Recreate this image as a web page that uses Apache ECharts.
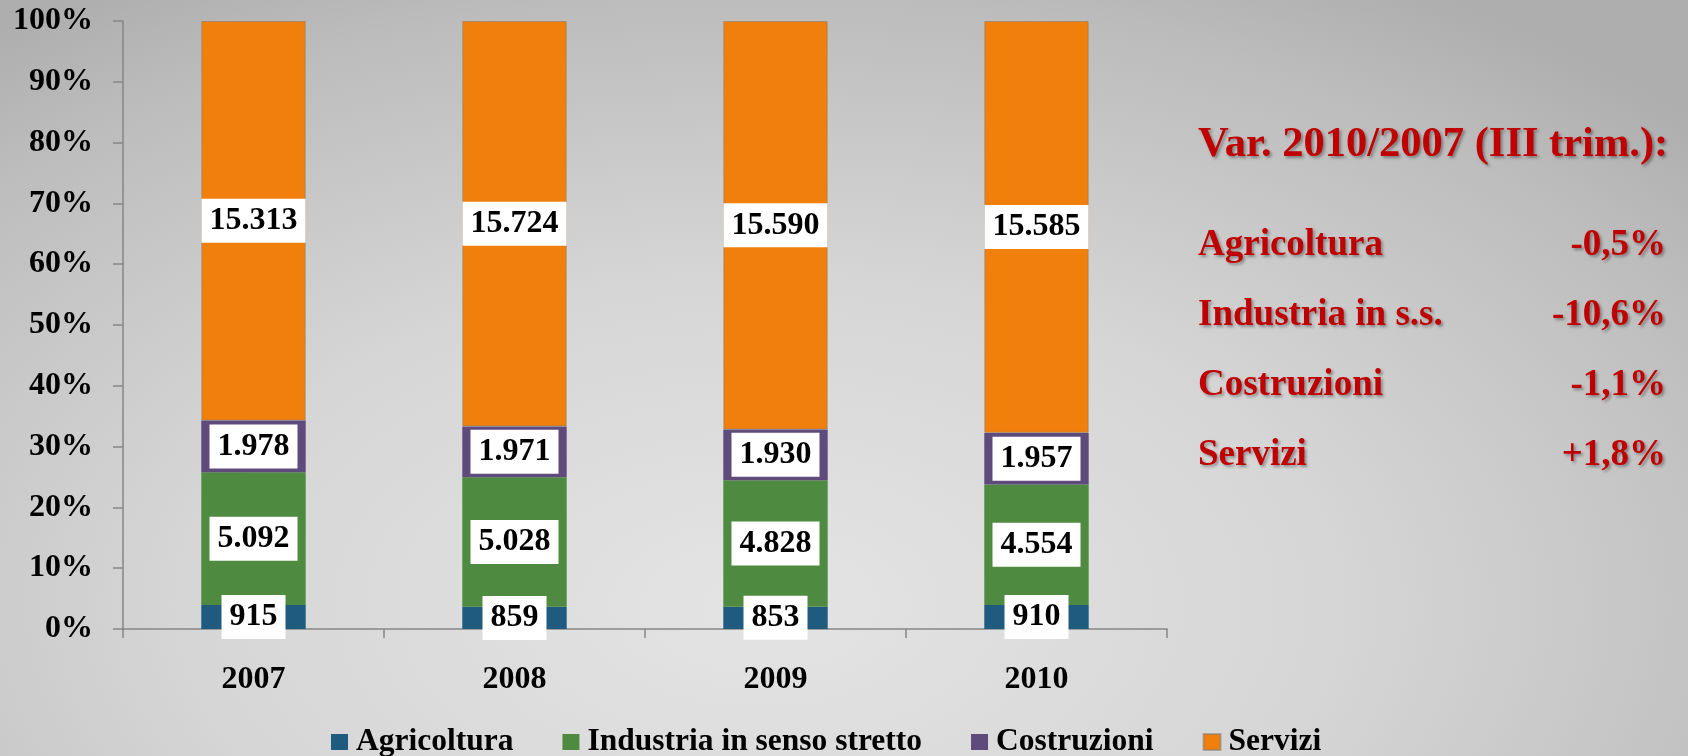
<!DOCTYPE html>
<html>
<head>
<meta charset="utf-8">
<script src="https://cdn.jsdelivr.net/npm/echarts@6/dist/echarts.min.js"></script>
<style>
	html, body { margin: 0; padding: 0; }
	#chart {
		width: 1688px;
		height: 756px;
		background: radial-gradient(ellipse 75% 95% at 45% 80%, #e4e4e4 0%, #d6d6d6 45%, #bcbcbc 85%, #aeaeae 100%);
	}
</style>
</head>
<body>
<div id="chart"></div>
<script>
	// dati (occupati, migliaia)
	var years = ['2007', '2008', '2009', '2010'];
	var agricoltura = [915, 859, 853, 910];
	var industria = [5092, 5028, 4828, 4554];
	var costruzioni = [1978, 1971, 1930, 1957];
	var servizi = [15313, 15724, 15590, 15585];

	var seriesNames = ['Agricoltura', 'Industria in senso stretto', 'Costruzioni', 'Servizi'];
	var seriesColors = ['#1f5b7f', '#4e8a40', '#5f4a7c', '#f0800b'];

	var varTitle = 'Var. 2010/2007 (III trim.):';
	var varLabels = ['Agricoltura', 'Industria in s.s.', 'Costruzioni', 'Servizi'];
	var varValues = ['-0,5%', '-10,6%', '-1,1%', '+1,8%'];

	var serif = 'Liberation Serif';
	var rawData = [agricoltura, industria, costruzioni, servizi];

	// numero con punto delle migliaia
	function fmt(n) {
		return String(n).replace(/\B(?=(\d{3})+(?!\d))/g, '.');
	}

	var totals = years.map(function(y, i) {
		return agricoltura[i] + industria[i] + costruzioni[i] + servizi[i];
	});

	var series = rawData.map(function(arr, k) {
		return {
			name: seriesNames[k],
			type: 'bar',
			stack: 'tot',
			barWidth: '40%',
			itemStyle: {
				color: seriesColors[k],
				borderColor: 'rgba(120,120,120,0.5)',
				borderWidth: k === 3 ? 1 : 0
			},
			label: {
				show: true,
				position: 'inside',
				color: '#000',
				fontFamily: serif,
				fontWeight: 'bold',
				fontSize: 32,
				backgroundColor: '#fff',
				padding: [7, 8, 5, 8],
				formatter: function(p) {
					return fmt(arr[p.dataIndex]);
				}
			},
			data: arr.map(function(v, i) {
				return v / totals[i] * 100;
			})
		};
	});

	var shadow = {
		textShadowColor: 'rgba(0,0,0,0.35)',
		textShadowOffsetX: 2,
		textShadowOffsetY: 2,
		textShadowBlur: 3
	};

	var graphics = [{
		type: 'text',
		x: 1198,
		y: 145,
		style: Object.assign({
			text: varTitle,
			fill: '#c00000',
			font: 'bold 42.5px "Liberation Serif"',
			verticalAlign: 'middle'
		}, shadow)
	}];
	for (var i = 0; i < varLabels.length; i++) {
		graphics.push({
			type: 'text',
			x: 1198,
			y: 245 + i * 70,
			style: Object.assign({
				text: varLabels[i],
				fill: '#c00000',
				font: 'bold 37px "Liberation Serif"',
				verticalAlign: 'middle'
			}, shadow)
		});
		graphics.push({
			type: 'text',
			x: 1666,
			y: 245 + i * 70,
			style: Object.assign({
				text: varValues[i],
				fill: '#c00000',
				font: 'bold 37px "Liberation Serif"',
				align: 'right',
				verticalAlign: 'middle'
			}, shadow)
		});
	}

	var chart = echarts.init(document.getElementById('chart'));
	chart.setOption({
		backgroundColor: 'transparent',
		animation: false,
		color: seriesColors,
		grid: {
			left: 123,
			right: 521,
			top: 21,
			bottom: 127
		},
		legend: {
			data: seriesNames,
			top: 721,
			left: 326,
			itemWidth: 17,
			itemHeight: 16,
			itemGap: 49,
			icon: 'rect',
			textStyle: {
				fontFamily: serif,
				fontWeight: 'bold',
				fontSize: 31.5,
				color: '#000',
				padding: [0, 0, 0, 3]
			}
		},
		xAxis: {
			type: 'category',
			data: years,
			axisLine: { lineStyle: { color: '#868686', width: 1.5 } },
			axisTick: { show: true, length: 9, lineStyle: { color: '#868686', width: 1.5 } },
			axisLabel: {
				margin: 35,
				color: '#000',
				fontFamily: serif,
				fontWeight: 'bold',
				fontSize: 32
			}
		},
		yAxis: {
			type: 'value',
			min: 0,
			max: 100,
			interval: 10,
			splitLine: { show: false },
			axisLine: { show: true, lineStyle: { color: '#868686', width: 1.5 } },
			axisTick: { show: true, length: 10, lineStyle: { color: '#868686', width: 1.5 } },
			axisLabel: {
				margin: 30,
				formatter: '{value}%',
				color: '#000',
				fontFamily: serif,
				fontWeight: 'bold',
				fontSize: 32
			}
		},
		series: series,
		graphic: graphics
	});
</script>
</body>
</html>
